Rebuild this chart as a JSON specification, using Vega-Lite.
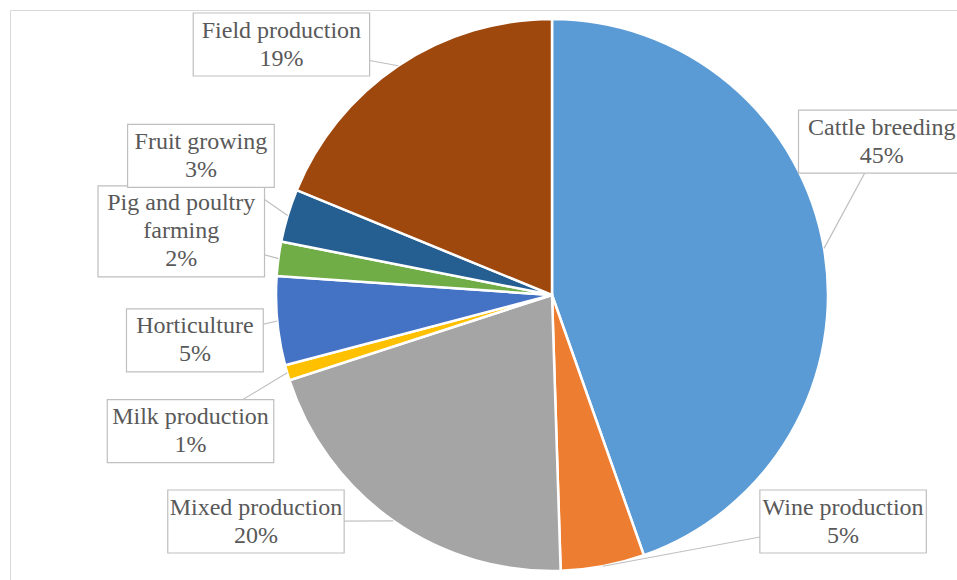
{
  "$schema": "https://vega.github.io/schema/vega-lite/v6.json",
  "width": 1084,
  "height": 570,
  "autosize": {"type": "none"},
  "padding": {"left": 10, "top": 10, "right": 0, "bottom": 0},
  "background": "white",
  "config": {"view": {"stroke": "#D9D9D9", "strokeWidth": 1}},
  "data": {
    "values": [
      {"category": "Cattle breeding", "name": "Cattle breeding", "pct": "45%", "value": 44.6},
      {"category": "Wine production", "name": "Wine production", "pct": "5%", "value": 4.9},
      {"category": "Mixed production", "name": "Mixed production", "pct": "20%", "value": 20.5},
      {"category": "Milk production", "name": "Milk production", "pct": "1%", "value": 0.9},
      {"category": "Horticulture", "name": "Horticulture", "pct": "5%", "value": 5.2},
      {"category": "Pig and poultry farming", "name": "Pig and poultry\nfarming", "pct": "2%", "value": 2.0},
      {"category": "Fruit growing", "name": "Fruit growing", "pct": "3%", "value": 3.1},
      {"category": "Field production", "name": "Field production", "pct": "19%", "value": 18.8}
    ]
  },
  "transform": [
    {"window": [{"op": "row_number", "as": "idx"}, {"op": "sum", "field": "value", "as": "cum"}], "frame": [null, 0]},
    {"joinaggregate": [{"op": "sum", "field": "value", "as": "total"}]},
    {"calculate": "(datum.cum - datum.value/2)/datum.total*2*PI", "as": "mid"},
    {"calculate": "sin(datum.mid)", "as": "s"},
    {"calculate": "cos(datum.mid)", "as": "c"},
    {"calculate": "split(datum.name + '\\n' + datum.pct, '\\n')", "as": "lines"},
    {"calculate": "length(datum.lines)*28+7", "as": "h"},
    {"calculate": "length(datum.lines[0])*9.9+18", "as": "w"},
    {"calculate": "min(max(285-483*datum.c, 3+datum.h/2), 543-datum.h/2)", "as": "yc0"},
    {"calculate": "max(0, abs(datum.yc0-285) - datum.h/2)", "as": "dyn"},
    {"calculate": "max(290*abs(datum.s), sqrt(max(0, 285*285 - datum.dyn*datum.dyn)))", "as": "reach"},
    {"calculate": "datum.s < 0 ? 542 - datum.reach - datum.w : min(542 + datum.reach, 955 - datum.w)", "as": "x0"},
    {"calculate": "datum.s < 0 ? 0 : sqrt(max(0, 275*275 - (datum.x0-542)*(datum.x0-542)))", "as": "need"},
    {"calculate": "datum.s < 0 ? datum.yc0 : (datum.c >= 0 ? min(datum.yc0, 285 - datum.need - datum.h/2) : max(datum.yc0, 285 + datum.need + datum.h/2))", "as": "yc"},
    {"calculate": "datum.yc - (length(datum.lines)-1)*14", "as": "ty"},
    {"calculate": "datum.x0 + datum.w", "as": "x1"},
    {"calculate": "datum.x0 + datum.w/2", "as": "xc"},
    {"calculate": "datum.yc - datum.h/2", "as": "y0"},
    {"calculate": "datum.yc + datum.h/2", "as": "y1"},
    {"calculate": "542 + 276*datum.s", "as": "ax"},
    {"calculate": "285 - 276*datum.c", "as": "ay"}
  ],
  "layer": [
    {
      "mark": {"type": "arc", "outerRadius": 276, "stroke": "white", "strokeWidth": 2.5},
      "encoding": {
        "theta": {"field": "value", "type": "quantitative", "stack": true},
        "order": {"field": "idx", "type": "quantitative"},
        "color": {
          "field": "category",
          "type": "nominal",
          "legend": null,
          "scale": {
            "domain": ["Cattle breeding", "Wine production", "Mixed production", "Milk production", "Horticulture", "Pig and poultry farming", "Fruit growing", "Field production"],
            "range": ["#5B9BD5", "#ED7D31", "#A5A5A5", "#FFC000", "#4472C4", "#70AD47", "#255E91", "#9E480E"]
          }
        }
      }
    },
    {
      "mark": {"type": "rule", "stroke": "#BFBFBF", "strokeWidth": 1.2},
      "encoding": {
        "x": {"field": "ax", "type": "quantitative", "axis": null, "scale": {"domain": [0, 1084], "nice": false, "zero": false}},
        "y": {"field": "ay", "type": "quantitative", "axis": null, "scale": {"domain": [0, 570], "nice": false, "zero": false, "reverse": true}},
        "x2": {"field": "xc"},
        "y2": {"field": "yc"}
      }
    },
    {
      "mark": {"type": "rect", "fill": "white", "stroke": "#BFBFBF", "strokeWidth": 1.2},
      "encoding": {
        "x": {"field": "x0", "type": "quantitative", "axis": null, "scale": {"domain": [0, 1084], "nice": false, "zero": false}},
        "x2": {"field": "x1"},
        "y": {"field": "y0", "type": "quantitative", "axis": null, "scale": {"domain": [0, 570], "nice": false, "zero": false, "reverse": true}},
        "y2": {"field": "y1"}
      }
    },
    {
      "mark": {"type": "text", "align": "center", "baseline": "middle", "font": "Liberation Serif", "fontSize": 24, "lineHeight": 28, "fill": "#595959"},
      "encoding": {
        "x": {"field": "xc", "type": "quantitative", "axis": null, "scale": {"domain": [0, 1084], "nice": false, "zero": false}},
        "y": {"field": "ty", "type": "quantitative", "axis": null, "scale": {"domain": [0, 570], "nice": false, "zero": false, "reverse": true}},
        "text": {"field": "lines", "type": "nominal"}
      }
    }
  ]
}
